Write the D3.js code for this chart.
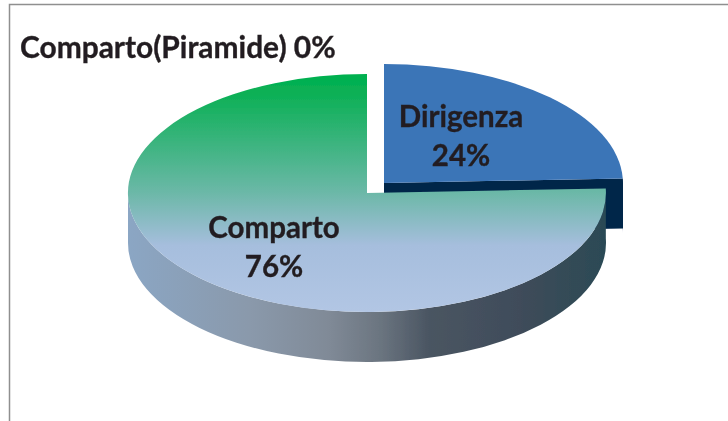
<!DOCTYPE html>
<html lang="en">
  <head>
    <meta charset="utf-8">
    <title>Comparto / Dirigenza</title>
    <script src="https://cdnjs.cloudflare.com/ajax/libs/d3/7.8.5/d3.min.js"></script>
    <style type="text/css">
html, body { margin: 0; padding: 0; background: #fff; }
svg { display: block; }
text { font-family: Lato, "Open Sans", sans-serif; font-weight: 700; fill: #231f20; font-size: 29.5px; stroke: #231f20; stroke-width: 0.35px; }
    </style>
  </head>

  <body>
    <div id="chart"></div>

    <script>
      // values as drawn: the wedge sits a bit over 24%, the labels round it
      var categories = ["Dirigenza", "Comparto"];
      var values = [24.4, 75.6];
      var zeroCategory = "Comparto(Piramide)";
      var zeroValue = 0;

      var width = 728, height = 421;
      var rx = 239, ry = 119, depth = 50;
      var centers = [{x: 384, y: 183}, {x: 367, y: 193}];

      var svg = d3.select("#chart").append("svg")
          .attr("width", width)
          .attr("height", height);

      var defs = svg.append("defs");

      function gradient(id, x2, y2, stops) {
        var g = defs.append("linearGradient")
            .attr("id", id)
            .attr("x1", 0).attr("y1", 0)
            .attr("x2", x2).attr("y2", y2);
        stops.forEach(function(s) {
          g.append("stop").attr("offset", s[0]).attr("stop-color", s[1]);
        });
      }

      gradient("topGreen", 0, 1, [
        [0, "#00b04f"], [0.08, "#0bb055"], [0.5, "#6cb8a8"], [0.72, "#a6bedd"], [1, "#b2c6e4"]
      ]);
      gradient("sideGrey", 1, 0, [
        [0, "#8ba6c4"], [0.255, "#8a99ab"], [0.42, "#808a97"], [0.527, "#6b7580"],
        [0.63, "#4a5562"], [0.82, "#3f4c5a"], [1, "#2b4a55"]
      ]);

      // the source is a soft scan, so everything gets a slight blur
      defs.append("filter").attr("id", "soft")
          .append("feGaussianBlur").attr("stdDeviation", 0.45);

      var root = svg.append("g").attr("filter", "url(#soft)");

      // border of the original frame
      root.append("path")
          .attr("d", "M9.5," + height + "V4.5H" + width)
          .attr("fill", "none")
          .attr("stroke", "#8f8f8f")
          .attr("stroke-width", 1.5);

      var pie = d3.pie().sort(null);
      var slices = pie(values);
      var arc = d3.arc().innerRadius(0).outerRadius(1);

      function unit(c) {
        return "translate(" + c.x + "," + c.y + ") scale(" + rx + "," + ry + ")";
      }

      var d = depth / ry;

      // Dirigenza: dark extruded block first, Comparto then covers most of it
      var gD = root.append("g").attr("transform", unit(centers[0]));
      var a1 = slices[0].endAngle - Math.PI / 2;

      var block = d3.path();
      block.moveTo(0, 0);
      block.lineTo(Math.cos(a1), Math.sin(a1));
      block.arc(0, 0, 1, a1, 0);
      block.lineTo(1, d);
      block.arc(0, d, 1, 0, a1, true);
      block.lineTo(0, d);
      block.closePath();

      gD.append("path").attr("d", block.toString()).attr("fill", "#02264a");
      gD.append("path").attr("d", arc(slices[0])).attr("fill", "#3b74b7");

      // Comparto: visible rim runs from the right edge round to the left edge
      var gC = root.append("g").attr("transform", unit(centers[1]));

      var rim = d3.path();
      rim.arc(0, 0, 1, slices[1].startAngle - Math.PI / 2, Math.PI);
      rim.arc(0, d, 1, Math.PI, slices[1].startAngle - Math.PI / 2, true);
      rim.closePath();

      gC.append("path").attr("d", rim.toString()).attr("fill", "url(#sideGrey)");
      gC.append("path").attr("d", arc(slices[1])).attr("fill", "url(#topGreen)");

      var labels = [
        {name: categories[0], value: values[0], x: 461, y: 127},
        {name: categories[1], value: values[1], x: 274, y: 238}
      ];

      labels.forEach(function(l) {
        root.append("text").attr("x", l.x).attr("y", l.y).attr("text-anchor", "middle").text(l.name);
        root.append("text").attr("x", l.x).attr("y", l.y + 39).attr("text-anchor", "middle").text(Math.round(l.value) + "%");
      });

      root.append("text")
          .attr("x", 20)
          .attr("y", 58)
          .style("font-size", "29.9px")
          .text(zeroCategory + " " + zeroValue + "%");
    </script>
  </body>
</html>
